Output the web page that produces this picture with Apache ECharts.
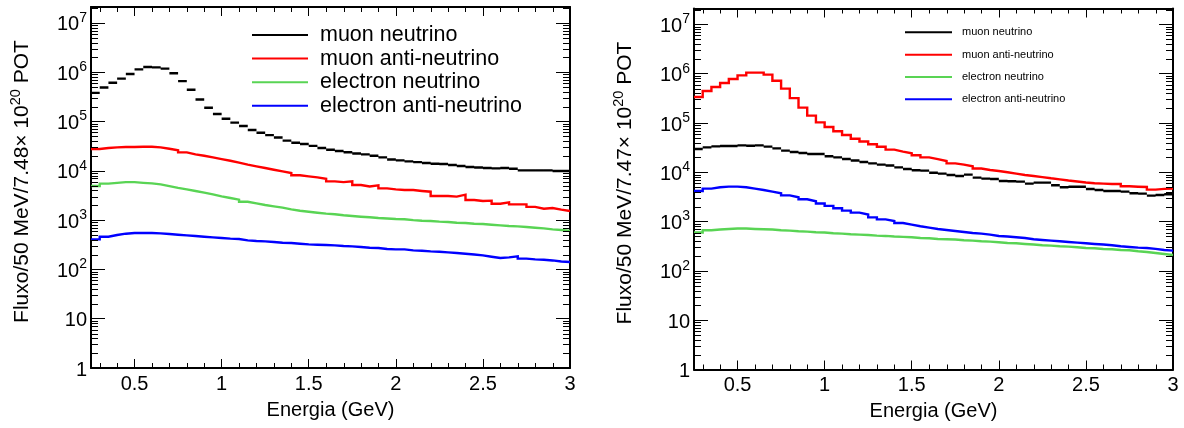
<!DOCTYPE html>
<html>
<head>
<meta charset="utf-8">
<script src="https://cdn.jsdelivr.net/npm/echarts@6/dist/echarts.min.js"></script>
<style>
  html, body { margin: 0; padding: 0; background: #fff; }
  #chart { width: 1184px; height: 428px; }
</style>
</head>
<body>
<div id="chart"></div>
<script>
// Energy bin edges (GeV), 50 MeV bins
const binEdges = [0.25, 0.30, 0.35, 0.40, 0.45, 0.50, 0.55, 0.60, 0.65, 0.70, 0.75, 0.80, 0.85, 0.90, 0.95,
  1.00, 1.05, 1.10, 1.15, 1.20, 1.25, 1.30, 1.35, 1.40, 1.45, 1.50, 1.55, 1.60, 1.65, 1.70, 1.75, 1.80,
  1.85, 1.90, 1.95, 2.00, 2.05, 2.10, 2.15, 2.20, 2.25, 2.30, 2.35, 2.40, 2.45, 2.50, 2.55, 2.60, 2.65,
  2.70, 2.75, 2.80, 2.85, 2.90, 2.95, 3.00];

const seriesNames = ['muon neutrino', 'muon anti-neutrino', 'electron neutrino', 'electron anti-neutrino'];

// Left panel: 7.48e20 POT
const leftMuNu = [3.8e5, 4.9e5, 6.1e5, 7.4e5, 9.2e5, 1.14e6, 1.27e6, 1.25e6, 1.18e6, 9.5e5,
  6.6e5, 4.4e5, 2.8e5, 1.9e5, 1.42e5, 1.14e5, 9.5e4, 8.1e4, 6.7e4, 5.9e4,
  5.3e4, 4.75e4, 4.1e4, 3.7e4, 3.5e4, 3.2e4, 2.9e4, 2.68e4, 2.52e4, 2.37e4,
  2.25e4, 2.15e4, 2.02e4, 1.87e4, 1.7e4, 1.63e4, 1.55e4, 1.5e4, 1.44e4, 1.39e4,
  1.37e4, 1.31e4, 1.25e4, 1.19e4, 1.17e4, 1.14e4, 1.12e4, 1.14e4, 1.1e4, 1.02e4,
  1.02e4, 1.02e4, 1.02e4, 9.9e3, 9.9e3];
const leftMuBar = [2.77e4, 2.9e4, 2.98e4, 3.03e4, 3.03e4, 3.08e4, 3.08e4, 2.98e4, 2.8e4, 2.6e4,
  2.36e4, 2.15e4, 2.02e4, 1.87e4, 1.73e4, 1.6e4, 1.46e4, 1.33e4, 1.23e4, 1.14e4,
  1.05e4, 9.7e3, 9.0e3, 8.1e3, 7.7e3, 7.35e3, 6.9e3, 6.1e3, 5.9e3, 6.1e3,
  5.15e3, 4.8e3, 5.05e3, 4.4e3, 4.2e3, 4.07e3, 4.07e3, 3.9e3, 3.77e3, 3.08e3,
  3.08e3, 2.99e3, 3.28e3, 2.55e3, 2.44e3, 2.48e3, 2.15e3, 2.29e3, 2.08e3, 2.08e3,
  1.85e3, 1.7e3, 1.76e3, 1.63e3, 1.53e3];
const leftNuE = [4.9e3, 5.5e3, 5.7e3, 5.9e3, 5.9e3, 5.7e3, 5.55e3, 5.3e3, 4.9e3, 4.5e3,
  4.2e3, 3.9e3, 3.6e3, 3.32e3, 3.03e3, 2.8e3, 2.6e3, 2.36e3, 2.18e3, 2.02e3,
  1.9e3, 1.79e3, 1.65e3, 1.55e3, 1.48e3, 1.41e3, 1.35e3, 1.31e3, 1.25e3, 1.21e3,
  1.17e3, 1.14e3, 1.1e3, 1.08e3, 1.05e3, 1.04e3, 1.0e3, 973, 959, 929,
  915, 886, 873, 845, 832, 807, 781, 758, 745, 724,
  701, 679, 648, 629, 601];
const leftNuEBar = [406, 460, 499, 530, 547, 547, 547, 538, 522, 506,
  490, 475, 460, 446, 433, 420, 413, 388, 377, 370,
  359, 348, 343, 332, 321, 316, 312, 307, 298, 293,
  284, 275, 272, 259, 255, 255, 243, 239, 232, 228,
  221, 215, 208, 201, 193, 181, 170, 175, 184, 165,
  160, 157, 152, 145, 141];

// Right panel: 7.47e20 POT
const rightMuNu = [2.96e4, 3.2e4, 3.36e4, 3.41e4, 3.41e4, 3.52e4, 3.46e4, 3.52e4, 3.31e4, 3.06e4,
  2.75e4, 2.58e4, 2.46e4, 2.35e4, 2.35e4, 2.11e4, 2.01e4, 1.86e4, 1.73e4, 1.62e4,
  1.52e4, 1.43e4, 1.37e4, 1.26e4, 1.17e4, 1.1e4, 1.08e4, 9.8e3, 9.4e3, 8.8e3,
  8.4e3, 8.96e3, 7.8e3, 7.45e3, 7.3e3, 6.66e3, 6.56e3, 6.47e3, 5.9e3, 6.17e3,
  6.17e3, 5.45e3, 4.96e3, 5.1e3, 5.1e3, 4.59e3, 4.38e3, 4.18e3, 4.18e3, 4.05e3,
  3.75e3, 3.7e3, 3.37e3, 3.47e3, 3.58e3];
const rightMuBar = [3.36e5, 4.44e5, 5.36e5, 6.46e5, 7.78e5, 9.24e5, 1.05e6, 1.05e6, 9.55e5, 7.2e5,
  4.97e5, 3.2e5, 2.05e5, 1.41e5, 1.03e5, 8.3e4, 6.8e4, 5.7e4, 4.8e4, 4.2e4,
  3.7e4, 3.3e4, 2.88e4, 2.63e4, 2.43e4, 2.21e4, 2.01e4, 1.85e4, 1.69e4, 1.52e4,
  1.43e4, 1.32e4, 1.19e4, 1.11e4, 1.06e4, 1.0e4, 9.4e3, 8.8e3, 8.4e3, 8.0e3,
  7.55e3, 7.2e3, 6.8e3, 6.5e3, 6.2e3, 6.0e3, 5.9e3, 5.8e3, 5.8e3, 5.2e3,
  5.1e3, 5.04e3, 4.46e3, 4.6e3, 4.67e3];
const rightNuE = [599, 667, 689, 709, 722, 722, 709, 698, 689, 667,
  657, 636, 627, 607, 599, 579, 570, 553, 545, 536,
  520, 512, 497, 489, 481, 466, 459, 445, 438, 432,
  418, 412, 399, 393, 381, 369, 363, 352, 342, 331,
  326, 316, 311, 301, 292, 288, 279, 275, 266, 262,
  250, 242, 231, 220, 210];
const rightNuEBar = [4.18e3, 4.67e3, 4.96e3, 5.13e3, 5.13e3, 4.96e3, 4.67e3, 4.37e3, 4.06e3, 3.75e3,
  3.41e3, 3.11e3, 2.83e3, 2.58e3, 2.32e3, 2.08e3, 1.86e3, 1.67e3, 1.52e3, 1.39e3,
  1.22e3, 1.11e3, 1.03e3, 937, 868, 803, 756, 708, 676, 645,
  616, 588, 571, 545, 511, 497, 481, 466, 438, 424,
  412, 399, 386, 375, 363, 352, 342, 331, 316, 306,
  297, 292, 279, 266, 258];

const yTitles = [
  '{t|Fluxo/50 MeV/7.48× 10}{tsup|20}{t| POT}',
  '{t|Fluxo/50 MeV/7.47× 10}{tsup|20}{t| POT}'
];
const xTitle = 'Energia (GeV)';

const X_MIN = 0.25, X_MAX = 3.0, Y_MIN = 1, Y_MAX = 2.1e7;
const FONT = '"Liberation Sans", Arial, Helvetica, sans-serif';
const COLORS = ['#000000', '#ff0000', '#59d454', '#0000ff'];

// Step outline through the bin edges; `gaps` leaves only the horizontal bin tops
function histPoints(values, gaps) {
  const pts = [];
  values.forEach((v, i) => {
    pts.push([binEdges[i], v], [binEdges[i + 1], v]);
    if (gaps) pts.push([binEdges[i + 1], null]);
  });
  return pts;
}

// Minor tick positions: 2..9 per decade on the log axis, 0.1 GeV steps on the energy axis
const yMinor = [];
for (let e = 0; e <= 7; e++) for (let m = 2; m <= 9; m++) {
  const v = m * Math.pow(10, e);
  if (v < Y_MAX) yMinor.push(v);
}
const xMinor = [];
for (let k = 3; k < 30; k++) if (k % 5 !== 0) xMinor.push(k / 10);

function logLabel(v) {
  const e = Math.round(Math.log10(v));
  if (e === 0) return '{b|1}';
  if (e === 1) return '{b|10}';
  return '{b|10}{sup|' + e + '}';
}

const richText = {
  b: { fontSize: 20, lineHeight: 24, fontFamily: FONT, color: '#000', verticalAlign: 'bottom' },
  sup: { fontSize: 14, lineHeight: 14, fontFamily: FONT, color: '#000', verticalAlign: 'top' },
  t: { fontSize: 21, lineHeight: 25, fontFamily: FONT, color: '#000', verticalAlign: 'bottom' },
  tsup: { fontSize: 14.5, lineHeight: 14.5, fontFamily: FONT, color: '#000', verticalAlign: 'top' }
};

const frameLine = { show: true, onZero: false, lineStyle: { color: '#000', width: 2 } };

function xAxes(grid) {
  return [
    { type: 'value', gridIndex: grid, position: 'bottom', min: X_MIN, max: X_MAX, splitNumber: 5,
      axisLine: frameLine, splitLine: { show: false },
      axisTick: { inside: true, length: 9, lineStyle: { color: '#000', width: 1 } },
      axisLabel: { showMinLabel: false, margin: 6, color: '#000', fontSize: 20, fontFamily: FONT },
      name: xTitle, nameLocation: 'middle', nameGap: 32,
      nameTextStyle: { fontSize: 20, fontFamily: FONT, color: '#000' } },
    { type: 'value', gridIndex: grid, position: 'top', min: X_MIN, max: X_MAX, splitNumber: 5,
      axisLine: frameLine, splitLine: { show: false },
      axisTick: { inside: true, length: 9, lineStyle: { color: '#000', width: 1 } },
      axisLabel: { show: false } }
  ];
}

function yAxes(grid, title) {
  return [
    { type: 'log', logBase: 10, gridIndex: grid, position: 'left', min: Y_MIN, max: Y_MAX,
      axisLine: frameLine, splitLine: { show: false },
      axisTick: { inside: true, length: 14, lineStyle: { color: '#000', width: 1 } },
      axisLabel: { showMaxLabel: false, margin: 4, formatter: logLabel, rich: richText },
      name: title, nameLocation: 'middle', nameGap: 58,
      nameTextStyle: { rich: richText, padding: [0, 0, 0, 12] } },
    { type: 'log', logBase: 10, gridIndex: grid, position: 'right', min: Y_MIN, max: Y_MAX,
      axisLine: frameLine, splitLine: { show: false },
      axisTick: { inside: true, length: 14, lineStyle: { color: '#000', width: 1 } },
      axisLabel: { show: false } }
  ];
}

function minorTicks(xi, yi) {
  const data = yMinor.map(v => [X_MIN, v, 0]).concat(xMinor.map(v => [v, Y_MIN, 1]));
  return {
    type: 'custom', xAxisIndex: xi, yAxisIndex: yi, silent: true, clip: false, z: 5,
    encode: { x: 0, y: 1 }, data: data,
    renderItem(params, api) {
      const cs = params.coordSys;
      const st = { stroke: '#000', lineWidth: 1 };
      if (api.value(2) === 0) {
        const y = Math.round(api.coord([X_MIN, api.value(1)])[1]) + 0.5;
        return { type: 'group', children: [
          { type: 'line', shape: { x1: cs.x, y1: y, x2: cs.x + 7, y2: y }, style: st },
          { type: 'line', shape: { x1: cs.x + cs.width - 7, y1: y, x2: cs.x + cs.width, y2: y }, style: st }
        ] };
      }
      const x = Math.round(api.coord([api.value(0), Y_MIN])[0]) + 0.5;
      return { type: 'group', children: [
        { type: 'line', shape: { x1: x, y1: cs.y + cs.height, x2: x, y2: cs.y + cs.height - 5 }, style: st },
        { type: 'line', shape: { x1: x, y1: cs.y, x2: x, y2: cs.y + 5 }, style: st }
      ] };
    }
  };
}

function histSeries(name, values, color, xi, yi, gaps) {
  return {
    type: 'line', name: name, xAxisIndex: xi, yAxisIndex: yi, data: histPoints(values, gaps),
    color: color, showSymbol: false, symbol: 'none', connectNulls: false, animation: false,
    lineStyle: { color: color, width: 2.4, join: 'miter', cap: 'butt' }, z: 3
  };
}

function legend(left, top, fontSize, lineHeight, itemWidth, textGap) {
  return {
    orient: 'vertical', left: left, top: top, padding: 0, itemGap: 0,
    itemWidth: itemWidth, itemHeight: 2, icon: 'rect', selectedMode: false,
    data: seriesNames,
    textStyle: { fontSize: fontSize, lineHeight: lineHeight, fontFamily: FONT, color: '#000',
      padding: [0, 0, 0, textGap] }
  };
}

const chart = echarts.init(document.getElementById('chart'), null, { renderer: 'canvas' });
chart.setOption({
  animation: false,
  backgroundColor: '#ffffff',
  grid: [
    { left: 91, top: 7, width: 479, height: 361, containLabel: false },
    { left: 694, top: 8.5, width: 479, height: 361, containLabel: false }
  ],
  xAxis: xAxes(0).concat(xAxes(1)),
  yAxis: yAxes(0, yTitles[0]).concat(yAxes(1, yTitles[1])),
  legend: [
    legend(252, 23.2, 21.5, 23.6, 56, 7),
    legend(905, 21.2, 11, 22.3, 47, 5)
  ],
  series: [
    histSeries(seriesNames[0], leftMuNu, COLORS[0], 0, 0, true),
    histSeries(seriesNames[1], leftMuBar, COLORS[1], 0, 0, false),
    histSeries(seriesNames[2], leftNuE, COLORS[2], 0, 0, false),
    histSeries(seriesNames[3], leftNuEBar, COLORS[3], 0, 0, false),
    minorTicks(0, 0),
    histSeries(seriesNames[0], rightMuNu, COLORS[0], 2, 2, true),
    histSeries(seriesNames[1], rightMuBar, COLORS[1], 2, 2, false),
    histSeries(seriesNames[2], rightNuE, COLORS[2], 2, 2, false),
    histSeries(seriesNames[3], rightNuEBar, COLORS[3], 2, 2, false),
    minorTicks(2, 2)
  ]
});
</script>
</body>
</html>
